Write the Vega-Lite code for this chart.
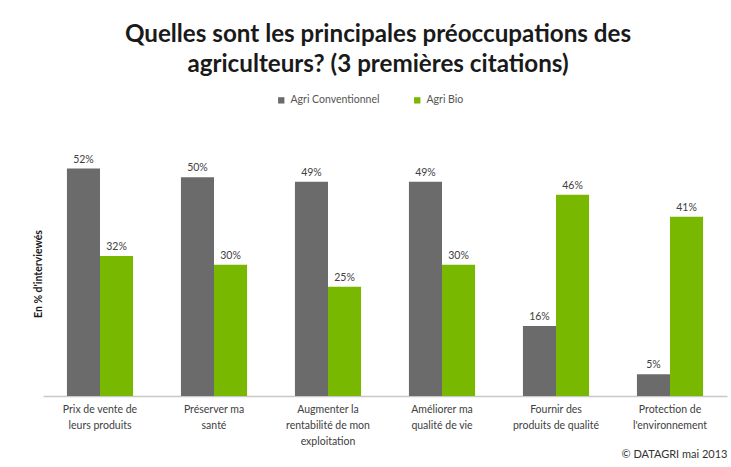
{
  "$schema": "https://vega.github.io/schema/vega-lite/v6.json",
  "width": 684,
  "height": 245,
  "autosize": {"type": "none"},
  "padding": {"left": 43, "top": 151, "right": 4, "bottom": 71},
  "background": "white",
  "title": {
    "text": ["Quelles sont les principales préoccupations des", "agriculteurs? (3 premières citations)"],
    "font": "Lato",
    "fontSize": 24.2,
    "fontWeight": "bold",
    "color": "#1a1a1a",
    "anchor": "middle",
    "frame": "group",
    "dx": -7,
    "offset": 18,
    "lineHeight": 30
  },
  "data": {
    "values": [
      {"cat": "Prix de vente de|leurs produits", "serie": "Agri Conventionnel", "v": 52},
      {"cat": "Prix de vente de|leurs produits", "serie": "Agri Bio", "v": 32},
      {"cat": "Préserver ma|santé", "serie": "Agri Conventionnel", "v": 50},
      {"cat": "Préserver ma|santé", "serie": "Agri Bio", "v": 30},
      {"cat": "Augmenter la|rentabilité de mon|exploitation", "serie": "Agri Conventionnel", "v": 49},
      {"cat": "Augmenter la|rentabilité de mon|exploitation", "serie": "Agri Bio", "v": 25},
      {"cat": "Améliorer ma|qualité de vie", "serie": "Agri Conventionnel", "v": 49},
      {"cat": "Améliorer ma|qualité de vie", "serie": "Agri Bio", "v": 30},
      {"cat": "Fournir des|produits de qualité", "serie": "Agri Conventionnel", "v": 16},
      {"cat": "Fournir des|produits de qualité", "serie": "Agri Bio", "v": 46},
      {"cat": "Protection de|l'environnement", "serie": "Agri Conventionnel", "v": 5},
      {"cat": "Protection de|l'environnement", "serie": "Agri Bio", "v": 41}
    ]
  },
  "encoding": {
    "x": {
      "field": "cat",
      "type": "nominal",
      "sort": null,
      "scale": {"paddingInner": 0.42, "paddingOuter": 0.21},
      "axis": {
        "title": "© DATAGRI mai 2013",
        "titleAnchor": "end",
        "titleAlign": "right",
        "titleFont": "Lato",
        "titleFontSize": 11,
        "titleFontWeight": "normal",
        "titleColor": "#333333",
        "titlePadding": 2,
        "labelExpr": "split(datum.label, '|')",
        "labelAngle": 0,
        "labelFont": "Lato",
        "labelFontSize": 10.5,
        "labelColor": "#404040",
        "labelLineHeight": 16,
        "labelPadding": 8,
        "ticks": false,
        "domainColor": "#c8c8c8",
        "domainWidth": 1.5
      }
    },
    "xOffset": {"field": "serie", "type": "nominal", "sort": ["Agri Conventionnel", "Agri Bio"]},
    "y": {
      "field": "v",
      "type": "quantitative",
      "scale": {"domain": [0, 56], "nice": false},
      "axis": {
        "title": "En % d'interviewés",
        "titleFont": "Lato",
        "titleFontSize": 10.5,
        "titleFontWeight": "bold",
        "titleColor": "#1a1a1a",
        "titlePadding": 0,
        "labels": false,
        "ticks": false,
        "domain": false,
        "grid": false
      }
    }
  },
  "layer": [
    {
      "mark": {"type": "bar"},
      "encoding": {
        "color": {
          "field": "serie",
          "type": "nominal",
          "sort": ["Agri Conventionnel", "Agri Bio"],
          "scale": {"domain": ["Agri Conventionnel", "Agri Bio"], "range": ["#6b6b6b", "#78b800"]},
          "legend": {
            "title": null,
            "orient": "none",
            "direction": "horizontal",
            "legendX": 233,
            "legendY": -56,
            "symbolType": "square",
            "symbolSize": 40,
            "labelFont": "Lato",
            "labelFontSize": 10.5,
            "labelColor": "#555555",
            "columnPadding": 32,
            "symbolStrokeWidth": 0
          }
        }
      }
    },
    {
      "transform": [{"calculate": "datum.v + '%'", "as": "lab"}],
      "mark": {"type": "text", "dy": -9, "font": "Lato", "fontSize": 10.5, "color": "#404040"},
      "encoding": {
        "text": {"field": "lab", "type": "nominal"},
        "color": {"value": "#404040"}
      }
    }
  ],
  "config": {"view": {"stroke": null}}
}
